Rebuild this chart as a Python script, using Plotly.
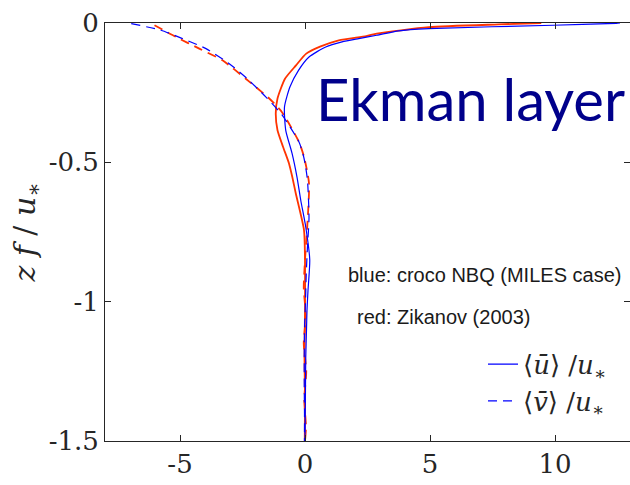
import plotly.graph_objects as go

# croco NBQ (blue)
croco_u_z = [0.0, -0.001, -0.008, -0.02, -0.028, -0.044, -0.056, -0.068, -0.086, -0.122, -0.17, -0.229,
             -0.301, -0.385, -0.467, -0.553, -0.636, -0.732, -0.85, -0.96, -1.03, -1.1, -1.2, -1.3, -1.4, -1.5]
croco_u_x = [12.6, 12.45, 9.93, 4.95, 3.75, 2.87, 2.15, 1.48, 0.83, 0.16, -0.26, -0.6,
             -0.82, -0.77, -0.52, -0.32, -0.17, 0.03, 0.19, 0.12, 0.08, 0.06, 0.03, 0.02, 0.01, 0.0]
croco_v_z = [-0.002, -0.026, -0.056, -0.092, -0.146, -0.2, -0.265, -0.33, -0.427, -0.47, -0.503,
             -0.565, -0.7, -0.8, -0.9, -1.0, -1.1, -1.2, -1.3, -1.4, -1.5]
croco_v_x = [-6.95, -5.76, -4.9, -3.96, -3.03, -2.31, -1.57, -0.92, -0.24, -0.08, 0.0,
             0.1, 0.16, 0.1, 0.05, 0.02, -0.02, -0.03, -0.03, -0.02, -0.02]

# Zikanov (2003) (red)
zik_u_z = [0.0, -0.005, -0.015, -0.038, -0.047, -0.062, -0.085, -0.11, -0.152, -0.2, -0.271, -0.325, -0.385,
           -0.444, -0.504, -0.552, -0.611, -0.743, -0.85, -1.03, -1.2, -1.35, -1.5]
zik_u_x = [9.45, 7.74, 4.95, 2.87, 2.45, 1.35, 0.6, 0.05, -0.36, -0.8, -1.1, -1.17, -1.1,
           -0.88, -0.64, -0.51, -0.37, -0.04, 0.0, 0.0, -0.02, 0.0, -0.01]
zik_v_z = [-0.008, -0.05, -0.092, -0.134, -0.2, -0.27, -0.32, -0.427, -0.48, -0.575, -0.73, -0.85,
           -0.95, -1.05, -1.15, -1.25, -1.35, -1.45, -1.5]
zik_v_x = [-6.02, -5.16, -4.23, -3.3, -2.37, -1.44, -0.92, -0.24, -0.04, 0.16, 0.09, 0.0,
           -0.05, 0.03, -0.05, 0.05, -0.03, 0.04, 0.0]

x_ticks = [-5, 0, 5, 10]
y_ticks = [0, -0.5, -1, -1.5]
y_tick_labels = ["0", "-0.5", "-1", "-1.5"]

BLUE = "#0000ff"
RED = "#ff3300"
DASH = "9px,6px"
SERIF = "DejaVu Serif, serif"

fig = go.Figure()
fig.add_trace(go.Scatter(x=zik_u_x, y=zik_u_z, mode="lines", line=dict(color=RED, width=1.8, shape="spline", smoothing=0.6),
                         showlegend=False))
fig.add_trace(go.Scatter(x=zik_v_x, y=zik_v_z, mode="lines", line=dict(color=RED, width=1.8, dash=DASH, shape="spline", smoothing=0.6),
                         showlegend=False))
fig.add_trace(go.Scatter(x=croco_u_x, y=croco_u_z, mode="lines", line=dict(color=BLUE, width=1.2, shape="spline", smoothing=0.6),
                         name="⟨<i>ū</i>⟩ /<i>u</i><sub>∗</sub>"))
fig.add_trace(go.Scatter(x=croco_v_x, y=croco_v_z, mode="lines", line=dict(color=BLUE, width=1.2, dash=DASH, shape="spline", smoothing=0.6),
                         name="⟨<i>v̄</i>⟩ /<i>u</i><sub>∗</sub>"))

axis_common = dict(showgrid=False, zeroline=False, showline=True, linecolor="#262626", linewidth=1,
                   mirror="allticks", ticks="inside", ticklen=6, tickcolor="#262626",
                   tickfont=dict(family=SERIF, size=26, color="#262626"))

fig.update_layout(
    width=630, height=485,
    margin=dict(l=105, r=0, t=23, b=44),
    paper_bgcolor="white", plot_bgcolor="white",
    xaxis=dict(range=[-8, 13], tickvals=x_ticks, ticktext=[str(v) for v in x_ticks], **axis_common),
    yaxis=dict(range=[-1.5, 0], tickvals=y_ticks, ticktext=y_tick_labels,
               title=dict(text="<i>z f</i> / <i>u</i><sub>∗</sub>", font=dict(family=SERIF, size=30, color="#262626"),
                          standoff=4),
               **axis_common),
    legend=dict(x=0.72, y=0.24, xanchor="left", yanchor="top", bgcolor="rgba(0,0,0,0)",
                font=dict(family=SERIF, size=26, color="#262626"), tracegroupgap=0,
                itemwidth=30),
    showlegend=True,
)

fig.add_annotation(x=0.995, y=0.82, xref="paper", yref="paper", text="Ekman layer", showarrow=False,
                   xanchor="right", yanchor="middle", font=dict(family="Lato, sans-serif", size=58, color="#00008b"))
fig.add_annotation(x=0.723, y=0.397, xref="paper", yref="paper", text="blue: croco NBQ (MILES case)", showarrow=False,
                   xanchor="center", yanchor="middle", font=dict(family="Liberation Sans, Arial", size=20, color="#1a1a1a"))
fig.add_annotation(x=0.645, y=0.297, xref="paper", yref="paper", text="red: Zikanov (2003)", showarrow=False,
                   xanchor="center", yanchor="middle", font=dict(family="Liberation Sans, Arial", size=20, color="#1a1a1a"))

fig.write_html("out.html")
